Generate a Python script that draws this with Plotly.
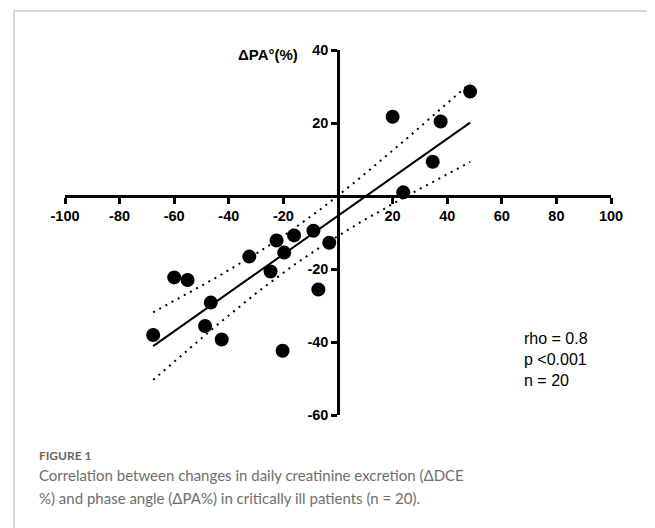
import numpy as np
import plotly.graph_objects as go

# Data
dce_change = [-67.7, -60.0, -55.1, -48.7, -46.6, -42.6, -32.5, -24.7, -22.5, -20.3,
              -19.7, -16.1, -9.0, -7.2, -3.2, 20.0, 23.9, 34.7, 37.6, 48.4]
pa_change = [-38.1, -22.3, -23.0, -35.6, -29.2, -39.3, -16.6, -20.7, -12.2, -42.4,
             -15.5, -10.8, -9.5, -25.6, -12.8, 21.7, 1.0, 9.4, 20.4, 28.6]
x_ticks = [-100, -80, -60, -40, -20, 20, 40, 60, 80, 100]
y_ticks = [-60, -40, -20, 20, 40]
stats_lines = ["rho = 0.8", "p <0.001", "n = 20"]

x = np.array(dce_change)
y = np.array(pa_change)
n = len(x)
slope, intercept = np.polyfit(x, y, 1)
xs = np.linspace(x.min(), x.max(), 100)
fit = intercept + slope * xs
resid = y - (intercept + slope * x)
s = np.sqrt(np.sum(resid ** 2) / (n - 2))
sxx = np.sum((x - x.mean()) ** 2)
t = 2.101  # t(0.975, df=18)
half = t * s * np.sqrt(1 / n + (xs - x.mean()) ** 2 / sxx)

fig = go.Figure()
fig.add_trace(go.Scatter(x=xs, y=fit + half, mode="lines",
                         line=dict(color="black", width=2, dash="2px,5px"), hoverinfo="skip"))
fig.add_trace(go.Scatter(x=xs, y=fit - half, mode="lines",
                         line=dict(color="black", width=2, dash="2px,5px"), hoverinfo="skip"))
fig.add_trace(go.Scatter(x=xs, y=fit, mode="lines",
                         line=dict(color="black", width=2), hoverinfo="skip"))
fig.add_trace(go.Scatter(x=x, y=y, mode="markers",
                         marker=dict(color="black", size=14)))

FONT = "Liberation Sans, Arial, sans-serif"
tickfont = dict(family=FONT, size=14.5, color="black")
fig.update_layout(
    width=647, height=520,
    margin=dict(l=57, r=44, t=42, b=113),
    plot_bgcolor="white", paper_bgcolor="white",
    showlegend=False,
    xaxis=dict(range=[-100, 100], anchor="free", position=0.6,
               showline=True, linecolor="black", linewidth=2.5,
               ticks="outside", ticklen=6, tickwidth=2.5, tickcolor="black",
               tickvals=x_ticks, ticktext=[f"<b>{v}</b>" for v in x_ticks],
               tickfont=tickfont, showgrid=False, zeroline=False),
    yaxis=dict(range=[-60, 40], anchor="free", position=0.5,
               showline=True, linecolor="black", linewidth=2.5,
               ticks="outside", ticklen=6, tickwidth=2.5, tickcolor="black",
               tickvals=y_ticks, ticktext=[f"<b>{v}</b>" for v in y_ticks],
               tickfont=tickfont, showgrid=False, zeroline=False),
)

fig.add_annotation(x=-13.9, y=38.9, xref="x", yref="y", text="<b>ΔPA°(%)</b>",
                   showarrow=False, xanchor="right", yanchor="middle",
                   font=dict(family=FONT, size=15, color="black"))
fig.add_annotation(x=103.3, y=-12.9, xref="x", yref="y", text="<b>ΔDCE(%)</b>",
                   showarrow=False, xanchor="right", yanchor="middle",
                   font=dict(family=FONT, size=15, color="black"))
fig.add_annotation(x=67.4, y=-44.7, xref="x", yref="y", text="<br>".join(stats_lines),
                   showarrow=False, xanchor="left", yanchor="middle", align="left",
                   font=dict(family=FONT, size=16, color="black"))

cap_color = "#6e6e6e"
fig.add_annotation(x=-0.0513, y=-0.1096, xref="paper", yref="paper", text="<b>FIGURE 1</b>",
                   showarrow=False, xanchor="left", yanchor="middle",
                   font=dict(family="Lato", size=12, color="#666666"))
fig.add_annotation(x=-0.0513, y=-0.164, xref="paper", yref="paper",
                   text="Correlation between changes in daily creatinine excretion (ΔDCE",
                   showarrow=False, xanchor="left", yanchor="middle",
                   font=dict(family="Lato", size=15, color=cap_color))
fig.add_annotation(x=-0.0513, y=-0.227, xref="paper", yref="paper",
                   text="%) and phase angle (ΔPA%) in critically ill patients (n = 20).",
                   showarrow=False, xanchor="left", yanchor="middle",
                   font=dict(family="Lato", size=15, color=cap_color))

# light frame (top and left edges)
fig.add_shape(type="line", xref="paper", yref="paper", x0=-0.0934, x1=1.1, y0=1.107, y1=1.107,
              line=dict(color="#cccccc", width=1.5))
fig.add_shape(type="line", xref="paper", yref="paper", x0=-0.0934, x1=-0.0934, y0=1.107, y1=-0.4,
              line=dict(color="#cccccc", width=1.5))

fig.write_html("out.html")
